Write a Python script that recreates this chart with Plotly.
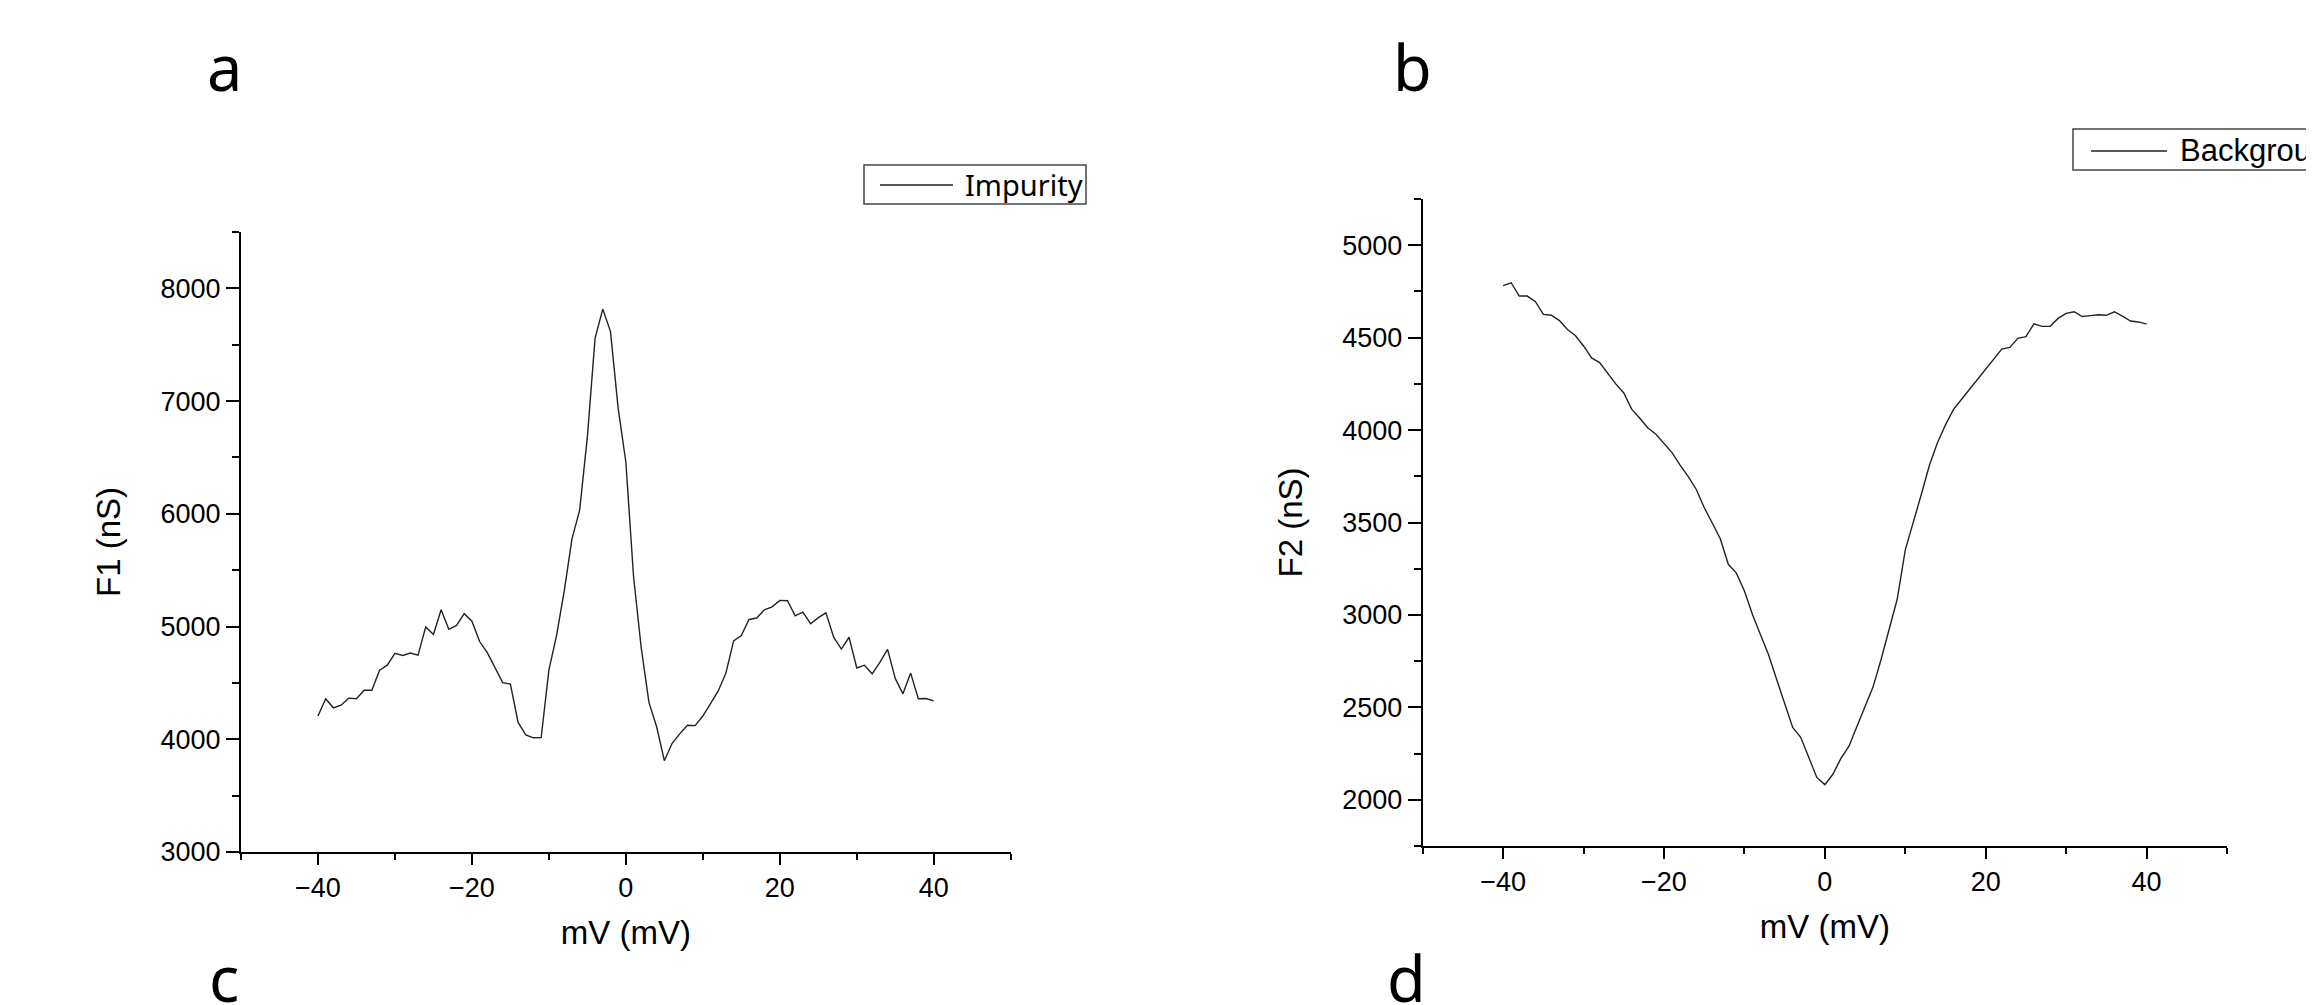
import plotly.graph_objects as go
from plotly.subplots import make_subplots

W, H = 2314, 1005
# the page body has a default 8px margin, so targets measured on the
# screenshot are moved back by that much
OFFSET = 8

mv = list(range(-40, 41))

f1_impurity = [
    4206, 4359, 4279, 4302, 4365, 4359, 4435, 4435, 4613, 4657,
    4762, 4743, 4765, 4746, 4997, 4930, 5149, 4975, 5010, 5114,
    5048, 4867, 4768, 4632, 4502, 4489, 4149, 4038, 4013, 4016,
    4613, 4921, 5317, 5778, 6032, 6683, 7556, 7816, 7619, 6937,
    6460, 5444, 4810, 4327, 4111, 3810, 3962, 4048, 4124, 4121,
    4206, 4317, 4429, 4587, 4873, 4921, 5063, 5076, 5149, 5175,
    5232, 5229, 5095, 5127, 5025, 5079, 5121, 4905, 4800, 4905,
    4632, 4657, 4581, 4683, 4797, 4540, 4403, 4587, 4359, 4362,
    4340,
]

f2_background = [
    4781, 4797, 4725, 4725, 4696, 4626, 4621, 4592, 4544, 4510,
    4455, 4390, 4365, 4305, 4250, 4201, 4112, 4064, 4011, 3977,
    3926, 3878, 3810, 3750, 3680, 3581, 3497, 3412, 3274, 3226,
    3130, 3002, 2893, 2784, 2652, 2526, 2391, 2338, 2229, 2121,
    2082, 2138, 2224, 2290, 2398, 2507, 2611, 2760, 2929, 3086,
    3352, 3497, 3653, 3810, 3931, 4028, 4112, 4167, 4221, 4276,
    4329, 4385, 4438, 4447, 4496, 4505, 4575, 4561, 4561, 4604,
    4631, 4640, 4614, 4619, 4624, 4621, 4640, 4616, 4590, 4585,
    4573,
]

panel_letters = ["a", "b", "c", "d"]
legend_names = ["Impurity", "Background"]

ARIAL = "Arial, Liberation Sans, sans-serif"
LINE_COL = "#222222"


def px_x(x):
    return (x - OFFSET) / W


def px_y(y):
    return 1 - (y - OFFSET) / H


fig = make_subplots(rows=1, cols=2)

fig.add_trace(
    go.Scatter(x=mv, y=f1_impurity, mode="lines", name=legend_names[0],
               line=dict(color=LINE_COL, width=1.4), showlegend=False),
    row=1, col=1,
)
fig.add_trace(
    go.Scatter(x=mv, y=f2_background, mode="lines", name=legend_names[1],
               line=dict(color=LINE_COL, width=1.4), showlegend=False),
    row=1, col=2,
)

axis_common = dict(
    showgrid=False,
    zeroline=False,
    showline=True,
    linecolor="black",
    linewidth=2,
    ticks="outside",
    tickcolor="black",
    tickwidth=2,
    tickfont=dict(family=ARIAL, size=27, color="black"),
)

x_common = dict(
    axis_common,
    range=[-50, 50],
    tick0=0,
    dtick=20,
    ticklen=11,
    minor=dict(dtick=10, ticklen=6, tickwidth=2, tickcolor="black", ticks="outside"),
    title=dict(text="mV (mV)", font=dict(family=ARIAL, size=33, color="black"), standoff=18),
)

fig.update_xaxes(x_common)
fig.update_xaxes(domain=[px_x(241), px_x(1010.7)], row=1, col=1)
fig.update_xaxes(domain=[px_x(1422.7), px_x(2227)], row=1, col=2)

fig.update_yaxes(axis_common)
fig.update_yaxes(
    domain=[px_y(852), px_y(232)],
    range=[3000, 8500],
    tick0=0,
    dtick=1000,
    ticklen=13,
    minor=dict(dtick=500, ticklen=7, tickwidth=2, tickcolor="black", ticks="outside"),
    title=dict(text="F1 (nS)", font=dict(family=ARIAL, size=33, color="black"), standoff=30),
    row=1, col=1,
)
fig.update_yaxes(
    domain=[px_y(846), px_y(199)],
    range=[1750, 5250],
    tick0=0,
    dtick=500,
    ticklen=13,
    minor=dict(dtick=250, ticklen=7, tickwidth=2, tickcolor="black", ticks="outside"),
    title=dict(text="F2 (nS)", font=dict(family=ARIAL, size=33, color="black"), standoff=30),
    row=1, col=2,
)

# hand-drawn legend boxes, Origin style
shapes = []
annotations = []
legend_boxes = [
    # (x0, x1, y0, y1, line x0, line x1, line y, text x, font, size)
    (864, 1086, 165, 204, 880, 953, 185, 963, "Noto Sans, Arial, sans-serif", 29),
    (2073, 2400, 129, 170, 2091, 2167, 151, 2178, ARIAL, 31),
]
for name, (bx0, bx1, by0, by1, lx0, lx1, ly, tx, fam, fs) in zip(legend_names, legend_boxes):
    shapes.append(dict(type="rect", xref="paper", yref="paper",
                       x0=px_x(bx0), x1=px_x(bx1), y0=px_y(by1), y1=px_y(by0),
                       line=dict(color="#444444", width=1.5), fillcolor="white"))
    shapes.append(dict(type="line", xref="paper", yref="paper",
                       x0=px_x(lx0), x1=px_x(lx1), y0=px_y(ly), y1=px_y(ly),
                       line=dict(color=LINE_COL, width=1.4)))
    annotations.append(dict(text=name, xref="paper", yref="paper",
                            x=px_x(tx), y=px_y(ly), xanchor="left", yanchor="middle",
                            showarrow=False, font=dict(family=fam, size=fs, color="black")))

letter_pos = [(224, 66), (1412, 66), (224, 977), (1406, 977)]
for letter, (lx, ly) in zip(panel_letters, letter_pos):
    annotations.append(dict(text=letter, xref="paper", yref="paper",
                            x=px_x(lx), y=px_y(ly), xanchor="center", yanchor="middle",
                            showarrow=False,
                            font=dict(family="Noto Sans, Open Sans, sans-serif", size=63, color="black")))

fig.update_layout(
    width=W,
    height=H,
    margin=dict(l=0, r=0, t=0, b=0, autoexpand=False),
    paper_bgcolor="white",
    plot_bgcolor="white",
    showlegend=False,
    shapes=shapes,
    annotations=annotations,
)

fig.write_html("out.html")
